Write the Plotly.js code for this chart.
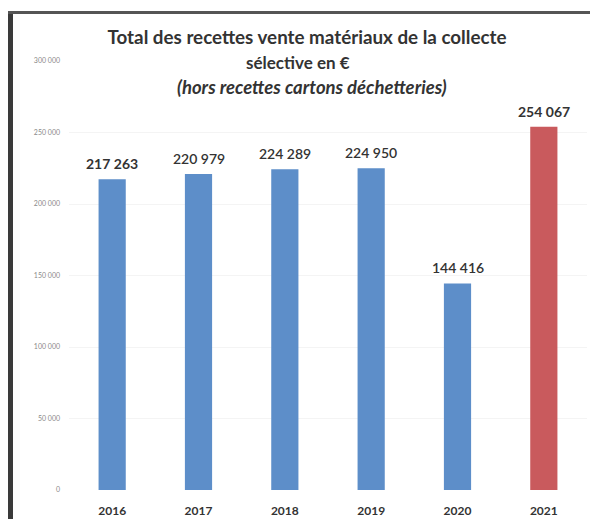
<!DOCTYPE html>
<html>
<head>
<meta charset="utf-8">
<script src="https://cdn.plot.ly/plotly-3.0.1.min.js"></script>
<style>
  html, body { margin: 0; padding: 0; background: #ffffff; }
  #chart { width: 590px; height: 519px; }
</style>
</head>
<body>
<div id="chart"></div>
<script>
// ---- data ----
const years = ["2016", "2017", "2018", "2019", "2020", "2021"];
const recettes = [217263, 220979, 224289, 224950, 144416, 254067];
const valueLabels = ["217 263", "220 979", "224 289", "224 950", "144 416", "254 067"];
const tickVals = [0, 50000, 100000, 150000, 200000, 250000, 300000];
const tickLabels = ["0", "50 000", "100 000", "150 000", "200 000", "250 000", "300 000"];
const titleLines = [
  "Total des recettes vente matériaux de la collecte",
  "sélective en €",
  "(hors recettes cartons déchetteries)"
];

// ---- styling ----
const blue = "#5d8ec9";
const red = "#c95a5d";
const barColors = years.map(y => y === "2021" ? red : blue);
const FONT = "Lato, 'Open Sans', sans-serif";

const M = { l: 69, r: 3, t: 61, b: 29 };
const W = 590, H = 519;
const pw = W - M.l - M.r, ph = H - M.t - M.b;
const px2x = p => (p - M.l) / pw;
const py2y = p => (H - M.b - p) / ph;

const trace = {
  type: "bar",
  x: years,
  y: recettes,
  marker: { color: barColors, line: { width: 0 } },
  hoverinfo: "x+y"
};

const annotations = years.map((yr, i) => ({
  x: i, y: recettes[i], xref: "x", yref: "y",
  text: valueLabels[i], showarrow: false,
  yanchor: "bottom", yshift: 5,
  font: { family: FONT, size: 14, color: "#333333", weight: (i === 5 || i === 0) ? 700 : 600 }
}));

annotations.push({
  x: px2x(298), y: py2y(62), xref: "paper", yref: "paper",
  text: "<b>" + titleLines[1] + "</b>", showarrow: false,
  xanchor: "center", yanchor: "middle",
  font: { family: FONT, size: 17, color: "#333333" }
});
annotations.push({
  x: px2x(312), y: py2y(87), xref: "paper", yref: "paper",
  text: "<b><i>" + titleLines[2] + "</i></b>", showarrow: false,
  xanchor: "center", yanchor: "middle",
  font: { family: FONT, size: 18.5, color: "#333333" }
});

const shapes = [
  { type: "line", xref: "paper", yref: "paper",
    x0: px2x(10.5), x1: px2x(10.5), y0: py2y(11), y1: py2y(530),
    line: { color: "#3a3a3a", width: 5 } },
  { type: "line", xref: "paper", yref: "paper",
    x0: px2x(8), x1: px2x(600), y0: py2y(12.5), y1: py2y(12.5),
    line: { color: "#555555", width: 3 } }
];

const layout = {
  width: W, height: H,
  margin: M,
  paper_bgcolor: "#ffffff",
  plot_bgcolor: "#ffffff",
  showlegend: false,
  bargap: 0.685,
  title: {
    text: "<b>" + titleLines[0] + "</b>",
    x: 307 / W, xanchor: "center",
    y: 1 - 37 / H, yanchor: "middle",
    font: { family: FONT, size: 18.8, color: "#333333" }
  },
  xaxis: {
    type: "category",
    range: [-0.5, years.length - 0.5],
    autorange: false,
    showgrid: false, zeroline: false, showline: false,
    ticks: "", ticklabelstandoff: 12,
    tickfont: { family: FONT, size: 12, color: "#333333", weight: 700 }
  },
  yaxis: {
    range: [0, 300000],
    autorange: false,
    tickvals: tickVals, ticktext: tickLabels,
    showgrid: true, gridcolor: "#f4f4f4", gridwidth: 1,
    zeroline: false, showline: false, ticks: "",
    ticklabelstandoff: 8,
    tickfont: { family: FONT, size: 7, color: "#8a8a8a" }
  },
  annotations: annotations,
  shapes: shapes
};

Plotly.newPlot("chart", [trace], layout, { displayModeBar: false, staticPlot: true });
</script>
</body>
</html>
